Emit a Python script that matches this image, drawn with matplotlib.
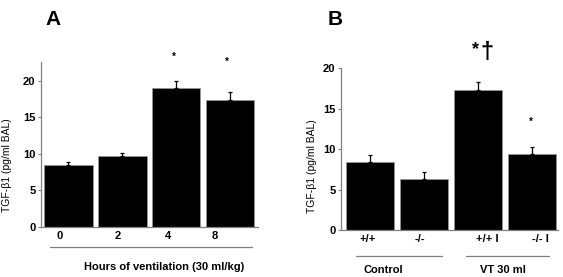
import matplotlib
matplotlib.use('Agg')
import matplotlib.pyplot as plt
from matplotlib.lines import Line2D

plt.rcParams['font.family'] = ['Liberation Sans', 'DejaVu Sans']
plt.rcParams['font.weight'] = 'bold'

# panel A: time course
hours = ["0", "2", "4", "8"]
tgf_a = [8.55, 9.7, 19.05, 17.35]
err_a = [0.35, 0.4, 0.9, 1.1]

# panel B: genotypes
genotypes = ["+/+", "-/-", "+/+ I", "-/- I"]
tgf_b = [8.4, 6.3, 17.3, 9.45]
err_b = [0.85, 0.9, 1.05, 0.85]

W, H = 563, 277
fig = plt.figure(figsize=(W / 100, H / 100), dpi=100)

def px_axes(left, top, right, bottom):
    return fig.add_axes([left / W, 1 - bottom / H, (right - left) / W, (bottom - top) / H])

def hline(x0, x1, y):
    fig.add_artist(Line2D([x0 / W, x1 / W], [1 - y / H, 1 - y / H],
                          transform=fig.transFigure, color='#808080', lw=0.9))

def style(ax, ylim):
    for s in ['top', 'right']:
        ax.spines[s].set_visible(False)
    for s in ['left', 'bottom']:
        ax.spines[s].set_color('#808080')
        ax.spines[s].set_linewidth(0.9)
    ax.set_ylim(*ylim)
    ax.set_yticks([0, 5, 10, 15, 20])
    ax.tick_params(axis='y', length=2.5, width=0.8, color='#808080', labelsize=8, pad=1.5)
    ax.tick_params(axis='x', length=0, labelsize=8, pad=3)
    for lab in ax.get_xticklabels() + ax.get_yticklabels():
        lab.set_fontweight('bold')

def draw_bars(ax, vals, errs):
    x = list(range(len(vals)))
    ax.bar(x, vals, width=0.89, color='black', edgecolor='#999999', linewidth=0.5, zorder=2)
    ax.errorbar(x, vals, yerr=[[0] * len(errs), errs], fmt='none', ecolor='black',
                elinewidth=0.9, capsize=1.3, capthick=0.9, zorder=3)

# ---- panel A
ax1 = px_axes(41, 62, 258, 227)
draw_bars(ax1, tgf_a, err_a)
ax1.set_xlim(-0.509, 3.51)
style(ax1, (0, 22.6))
ax1.set_xticks([-0.157, 0.917, 1.843, 2.713], hours)
ax1.set_ylabel("TGF-β1 (pg/ml BAL)", fontsize=7.5, fontweight='normal')
ax1.yaxis.set_label_coords(-0.134, 0.376)
ax1.text(1.954, 23.3, "*", ha='center', va='center', fontsize=7)
ax1.text(2.935, 22.6, "*", ha='center', va='center', fontsize=7)
hline(50, 252, 247)
fig.text(164 / W, 1 - 267 / H, "Hours of ventilation (30 ml/kg)", ha='center', va='center',
         fontsize=8, fontweight='bold')
fig.text(45 / W, 1 - 25 / H, "A", fontsize=15, fontweight='bold', va='baseline')

# ---- panel B
ax2 = px_axes(341, 68.3, 558, 230)
draw_bars(ax2, tgf_b, err_b)
ax2.set_xlim(-0.537, 3.48)
style(ax2, (0, 20))
ax2.set_xticks([-0.04, 0.918, 2.17, 3.16], genotypes)
ax2.set_ylabel("TGF-β1 (pg/ml BAL)", fontsize=7.5, fontweight='normal')
ax2.yaxis.set_label_coords(-0.112, 0.396)
ax2.text(1.96, 22.3, "*", ha='center', va='center', fontsize=13)
ax2.text(2.17, 21.9, "†", ha='center', va='center', fontsize=17, fontweight='bold')
ax2.text(2.975, 13.4, "*", ha='center', va='center', fontsize=7)
hline(356, 441.7, 256)
hline(466, 549.3, 256)
fig.text(383.3 / W, 1 - 270 / H, "Control", ha='center', va='center', fontsize=8, fontweight='bold')
fig.text(503.3 / W, 1 - 270 / H, "VT 30 ml", ha='center', va='center', fontsize=8, fontweight='bold')
fig.text(328 / W, 1 - 25 / H, "B", fontsize=15, fontweight='bold', va='baseline')

fig.savefig("out.png", dpi=100)
